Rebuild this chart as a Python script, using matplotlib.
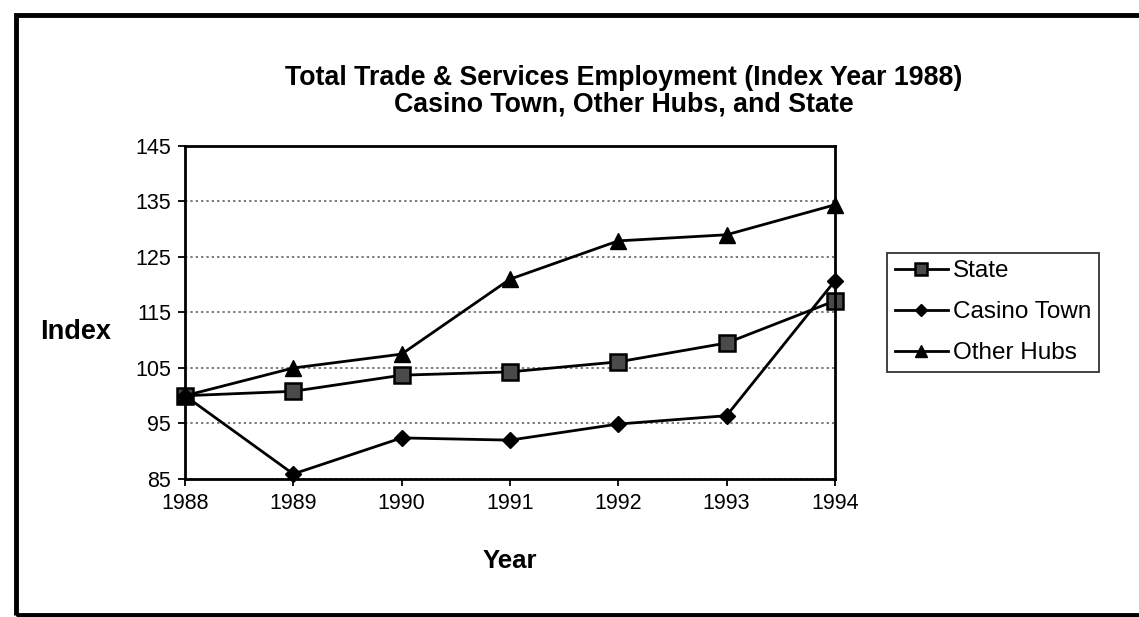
import matplotlib
matplotlib.use('Agg')
import matplotlib.pyplot as plt
from matplotlib.patches import Rectangle

plt.rcParams['font.family'] = ['Liberation Sans', 'DejaVu Sans']

years       = [1988, 1989, 1990, 1991, 1992, 1993, 1994]
state       = [100.0, 100.8, 103.7, 104.3, 106.1, 109.5, 117.1]
casino_town = [100.0, 85.9, 92.4, 92.0, 94.9, 96.4, 120.7]
other_hubs  = [100.0, 105.0, 107.5, 121.0, 127.9, 129.0, 134.4]
y_ticks     = [85, 95, 105, 115, 125, 135, 145]

fig = plt.figure(figsize=(11.39, 6.17), dpi=100)
ax  = fig.add_axes([0.1624, 0.2237, 0.5706, 0.5397])

ax.plot(years, state, color='black', lw=2.0, marker='s', ms=11,
        mfc='#4a4a4a', mec='black', mew=1.8, label='State', clip_on=False)
ax.plot(years, casino_town, color='black', lw=2.0, marker='D', ms=8,
        mfc='black', mec='black', label='Casino Town', clip_on=False)
ax.plot(years, other_hubs, color='black', lw=2.0, marker='^', ms=11,
        mfc='black', mec='black', label='Other Hubs', clip_on=False)

ax.set_xlim(1988, 1994)
ax.set_ylim(85, 145)
ax.set_xticks(years)
ax.set_yticks(y_ticks)
ax.tick_params(axis='both', direction='out', length=5, width=1.3,
               labelsize=15.5, pad=5)
for s in ax.spines.values():
    s.set_linewidth(2.0)
ax.yaxis.grid(True, linestyle=(0, (1.5, 2)), color='#555555', lw=1.1)
ax.set_axisbelow(True)

ax.set_xlabel('Year', fontsize=18.5, fontweight='bold', labelpad=25)
ax.set_ylabel('Index', fontsize=19.5, fontweight='bold', rotation=0,
              ha='center', va='center')
ax.yaxis.set_label_coords(-0.169, 0.441)

fig.text(0.548, 0.873, 'Total Trade & Services Employment (Index Year 1988)',
         ha='center', va='center', fontsize=19.3, fontweight='bold')
fig.text(0.548, 0.830, 'Casino Town, Other Hubs, and State',
         ha='center', va='center', fontsize=19.3, fontweight='bold')

leg = fig.legend(loc='upper left', bbox_to_anchor=(0.779, 0.59),
                 fontsize=17.5, frameon=True, fancybox=False,
                 handlelength=2.2, handletextpad=0.2, borderpad=0.3,
                 borderaxespad=0, labelspacing=0.78, markerscale=0.8)
leg.get_frame().set_edgecolor('black')
leg.get_frame().set_linewidth(1.3)

# outer frame round the whole chart
fig.patches.append(Rectangle((0.014, 0.003), 0.99, 0.973,
                             transform=fig.transFigure, fill=False,
                             edgecolor='black', lw=3.5))

fig.savefig('out.png', dpi=100)
